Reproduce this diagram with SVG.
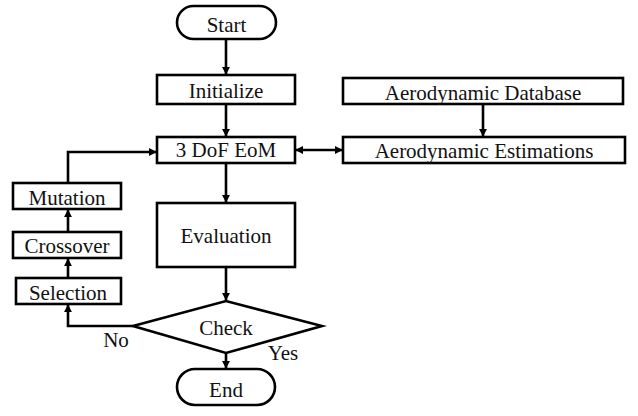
<svg xmlns="http://www.w3.org/2000/svg" width="638" height="416" viewBox="0 0 638 416">
<style>
.b{fill:#fff;stroke:#000;stroke-width:2.6}
.t{font-family:"Liberation Serif","Times New Roman",serif;font-size:21px;fill:#111;text-anchor:middle}
.c{fill:none;stroke:#000;stroke-width:2.6}
</style>
<defs>
<marker id="a" viewBox="0 0 10 10" refX="9" refY="5" markerWidth="3.2" markerHeight="3.2" orient="auto-start-reverse" markerUnits="strokeWidth">
<path d="M0,0L10,5L0,10z" fill="#000"/>
</marker>
</defs>
<rect width="638" height="416" fill="#fff"/>
<g id="connectors">
<line class="c" x1="226" y1="39" x2="226" y2="74" marker-end="url(#a)"/>
<line class="c" x1="226" y1="104" x2="226" y2="136" marker-end="url(#a)"/>
<line class="c" x1="226" y1="163" x2="226" y2="202" marker-end="url(#a)"/>
<line class="c" x1="226" y1="267" x2="226" y2="300" marker-end="url(#a)"/>
<line class="c" x1="226" y1="353" x2="226" y2="368" marker-end="url(#a)"/>
<line class="c" x1="483" y1="104" x2="483" y2="136" marker-end="url(#a)"/>
<line class="c" x1="296" y1="150" x2="342" y2="150" marker-start="url(#a)" marker-end="url(#a)"/>
<polyline class="c" points="133,326 68,326 68,305" marker-end="url(#a)"/>
<line class="c" x1="68" y1="278" x2="68" y2="259" marker-end="url(#a)"/>
<line class="c" x1="68" y1="232" x2="68" y2="210" marker-end="url(#a)"/>
<polyline class="c" points="68,183 68,152 156,152" marker-end="url(#a)"/>
</g>
<g id="start"><rect class="b" x="177" y="6" width="99" height="33" rx="16.5"/><text class="t" x="226.5" y="32">Start</text></g>
<g id="initialize"><rect class="b" x="157" y="75" width="138" height="29"/><text class="t" x="226" y="98">Initialize</text></g>
<g id="eom"><rect class="b" x="157" y="137" width="138" height="26"/><text class="t" x="226" y="157">3 DoF EoM</text></g>
<g id="evaluation"><rect class="b" x="157" y="203" width="138" height="64"/><text class="t" x="226" y="243">Evaluation</text></g>
<g id="check"><polygon class="b" points="133,326 226,301 322,326 226,353"/><text class="t" x="226" y="335">Check</text></g>
<g id="end"><rect class="b" x="177" y="369" width="98" height="36" rx="18"/><text class="t" x="226" y="397">End</text></g>
<g id="database"><rect class="b" x="343" y="78" width="280" height="26"/><text class="t" x="483" y="100">Aerodynamic Database</text></g>
<g id="estimations"><rect class="b" x="343" y="137" width="282" height="26"/><text class="t" x="484" y="158">Aerodynamic Estimations</text></g>
<g id="mutation"><rect class="b" x="13" y="183" width="108" height="26"/><text class="t" x="67" y="205">Mutation</text></g>
<g id="crossover"><rect class="b" x="13" y="232" width="108" height="26"/><text class="t" x="67" y="253">Crossover</text></g>
<g id="selection"><rect class="b" x="16" y="278" width="105" height="26"/><text class="t" x="68" y="300">Selection</text></g>
<g id="labels"><text class="t" x="116" y="347">No</text><text class="t" x="283" y="360">Yes</text></g>
</svg>
